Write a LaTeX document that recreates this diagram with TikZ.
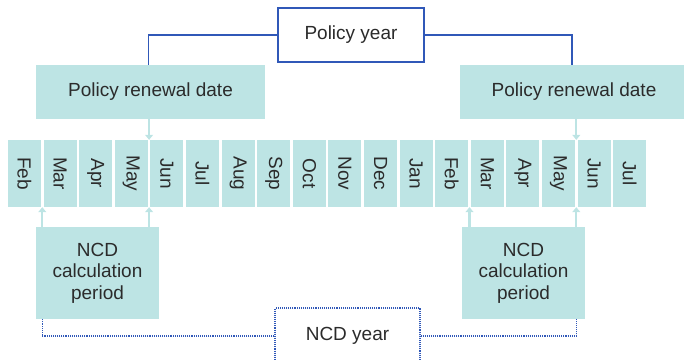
\documentclass[tikz,border=0pt]{standalone}
\usepackage{fontspec}
\setmainfont{Liberation Sans}
\usetikzlibrary{arrows.meta,calc,positioning}
\definecolor{tealbox}{HTML}{BDE4E4}
\definecolor{lineblue}{HTML}{3058B8}
\definecolor{inkgray}{HTML}{2B2B2B}

\begin{document}
\begin{tikzpicture}[
x=1pt, y=1pt,
every node/.style={font=\fontsize{19}{21.5}\selectfont, text=inkgray},
box/.style={rectangle, fill=tealbox, inner sep=0pt, align=center},
month/.style={box, minimum width=33pt, minimum height=67pt},
frame/.style={rectangle, draw=lineblue, line width=1.1pt, fill=white, minimum width=146pt, minimum height=54pt},
link/.style={draw=lineblue, line width=1.1pt},
dotlink/.style={draw=lineblue, line width=1.1pt, densely dotted},
pointer/.style={draw=tealbox, line width=2.2pt, -{Triangle[width=8pt,length=5pt]}}
]
\useasboundingbox (0,0) rectangle (684,-360);
%Nodes
\node[frame]      (year)    at (351,-35)      {Policy year};
\node[box, minimum width=229pt, minimum height=54pt] (renewL) at (150.5,-92) {Policy renewal date};
\node[box, minimum width=229pt, minimum height=54pt] (renewR) at (574,-92)   {Policy renewal date};
\foreach \m [count=\i from 0] in {Feb,Mar,Apr,May,Jun,Jul,Aug,Sep,Oct,Nov,Dec,Jan,Feb,Mar,Apr,May,Jun,Jul}
  \node[month] (m\i) at ({24.5+35.6*\i},-173.5) {\rotatebox{-90}{\m}};
\node[box, minimum width=123pt, minimum height=92pt] (calcL) at (97.5,-273)  {NCD\\calculation\\period};
\node[box, minimum width=123pt, minimum height=92pt] (calcR) at (523.5,-273) {NCD\\calculation\\period};
\node[frame, densely dotted, minimum width=145pt, minimum height=56pt] (ncd) at (347.5,-336) {NCD year};
%Gaps between months
\coordinate (gapA) at ($(m0.east)!0.5!(m1.west)$);
\coordinate (gapB) at ($(m3.east)!0.5!(m4.west)$);
\coordinate (gapC) at ($(m12.east)!0.5!(m13.west)$);
\coordinate (gapD) at ($(m15.east)!0.5!(m16.west)$);
%Lines
\draw[link] (year.west) -| ($(renewL.north)+(-2,0)$);
\draw[link] (year.east) -| ($(renewR.north)+(-2,0)$);
\draw[pointer] (renewL.south -| gapB) -- (gapB |- m3.north);
\draw[pointer] (renewR.south -| gapD) -- (gapD |- m15.north);
\draw[pointer] (calcL.north -| gapA) -- (gapA |- m0.south);
\draw[pointer] (calcL.north -| gapB) -- (gapB |- m3.south);
\draw[pointer] (calcR.north -| gapC) -- (gapC |- m12.south);
\draw[pointer] (calcR.north -| gapD) -- (gapD |- m15.south);
\draw[dotlink] (ncd.west) -| (calcL.south -| gapA);
\draw[dotlink] (ncd.east) -| (calcR.south -| gapD);
\end{tikzpicture}
\end{document}
